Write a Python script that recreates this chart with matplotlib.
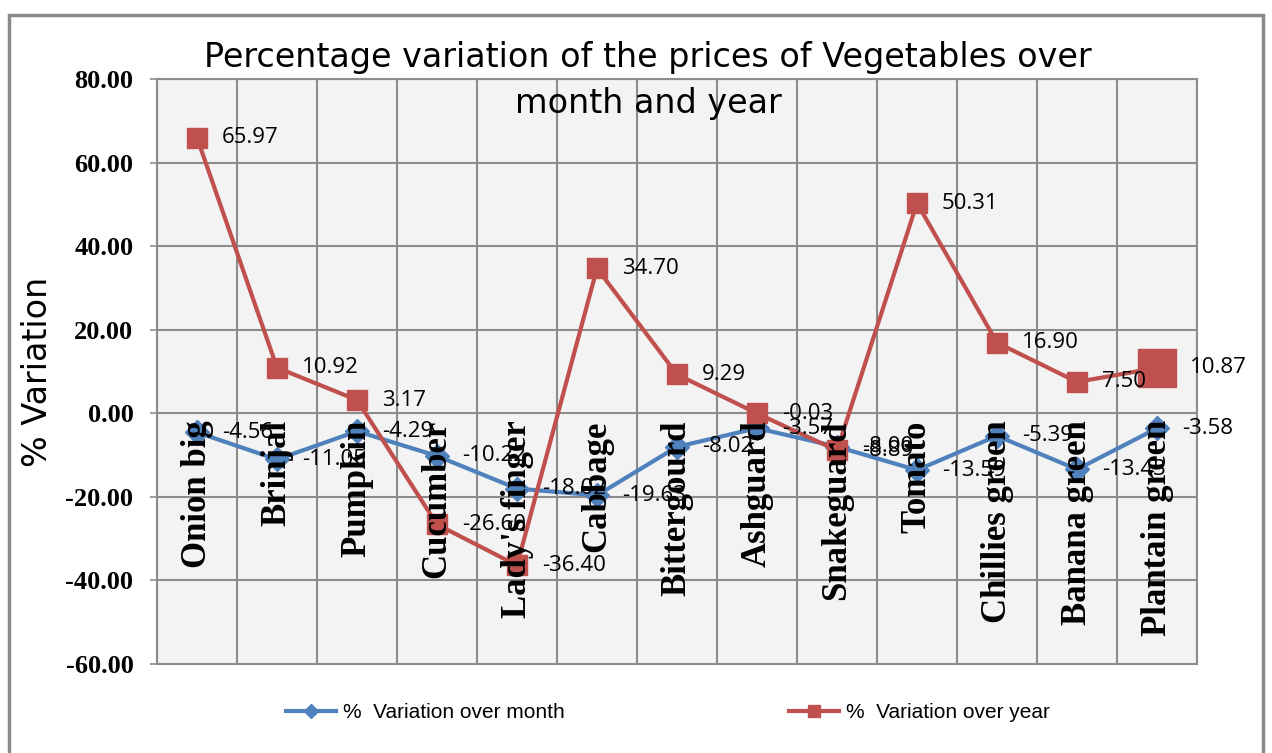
import matplotlib.pyplot as plt
from matplotlib.patches import Rectangle
from matplotlib.ticker import FixedLocator

# chart values
categories = ['Onion big', 'Brinjal', 'Pumpkin', 'Cucumber', "Lady's finger", 'Cabbage',
              'Bittergourd', 'Ashguard', 'Snakeguard', 'Tomato', 'Chillies green',
              'Banana green', 'Plantain green']
over_month = [-4.56, -11.05, -4.29, -10.22, -18.02, -19.63, -8.02, -3.57, -8.00,
              -13.59, -5.39, -13.43, -3.58]
over_year = [65.97, 10.92, 3.17, -26.60, -36.40, 34.70, 9.29, -0.03, -8.89,
             50.31, 16.90, 7.50, 10.87]
y_ticks = [-60, -40, -20, 0, 20, 40, 60, 80]

blue = '#4F81BD'
red = '#C0504D'
grid_col = '#8c8c8c'

fig = plt.figure(figsize=(12.72, 7.53), dpi=100)

# grey outer border of the chart
fig.patches.append(Rectangle((9 / 1272, -0.02), 1254 / 1272, 1.02 - 15.5 / 753,
                             transform=fig.transFigure, fill=False,
                             edgecolor='#8a8a8a', linewidth=2.5))

ax = fig.add_axes([157 / 1272, 1 - 664 / 753, 1040 / 1272, 585 / 753])
ax.set_facecolor('#f3f3f3')

x = list(range(len(categories)))

ax.plot(x, over_month, color=blue, lw=3, marker='D', ms=12, label='%  Variation over month',
        zorder=3)
ax.plot(x, over_year, color=red, lw=3, marker='s', ms=14, label='%  Variation over year',
        zorder=3)
# the last year marker is drawn bigger in the original
ax.plot(x[-1], over_year[-1], color=red, marker='s', ms=27, ls='none', zorder=4)

ax.set_xlim(-0.5, len(categories) - 0.5)
ax.set_ylim(-60, 80)
ax.set_yticks(y_ticks)
ax.set_yticklabels(['%.2f' % v for v in y_ticks], fontfamily='Liberation Serif',
                   fontweight='bold', fontsize=19)
ax.tick_params(axis='y', length=5, width=1.2, color=grid_col, pad=12)
ax.set_xticks([])
ax.xaxis.set_minor_locator(FixedLocator([i - 0.5 for i in range(len(categories) + 1)]))
ax.tick_params(axis='x', which='minor', length=0)
ax.grid(True, which='major', axis='y', color=grid_col, lw=1.5)
ax.grid(True, which='minor', axis='x', color=grid_col, lw=1.5)
ax.set_axisbelow(True)
for s in ax.spines.values():
    s.set_color(grid_col)
    s.set_linewidth(1.5)

ax.set_ylabel('% Variation', fontsize=24, fontfamily='DejaVu Sans', labelpad=8)

# category names sit on the zero line, rotated
for i, name in enumerate(categories):
    ax.annotate(name, (i, 0), xytext=(0, -5), textcoords='offset points',
                rotation=90, ha='center', va='top', fontsize=25,
                fontfamily='Liberation Serif', fontweight='bold', zorder=5)

# data labels to the right of each point
for i in range(len(categories)):
    ax.annotate('%.2f' % over_month[i], (i, over_month[i]), xytext=(18, 0),
                textcoords='offset points', ha='left', va='center', fontsize=16,
                fontfamily='Open Sans', zorder=6)
    off = 24 if i == len(categories) - 1 else 18
    ax.annotate('%.2f' % over_year[i], (i, over_year[i]), xytext=(off, 0),
                textcoords='offset points', ha='left', va='center', fontsize=16,
                fontfamily='Open Sans', zorder=6)

fig.text(648 / 1272, 1 - 58 / 753, 'Percentage variation of the prices of Vegetables over',
         ha='center', va='center', fontsize=24, fontfamily='DejaVu Sans')
fig.text(648 / 1272, 1 - 103 / 753, 'month and year',
         ha='center', va='center', fontsize=24, fontfamily='DejaVu Sans')

fig.legend(loc='center', bbox_to_anchor=(668 / 1272, 1 - 713 / 753), ncol=2,
           frameon=False, handlelength=2.4, columnspacing=10.8, handletextpad=0.3,
           markerscale=0.6, prop={'family': 'Liberation Sans', 'size': 15})

fig.savefig('out.png', dpi=100)
